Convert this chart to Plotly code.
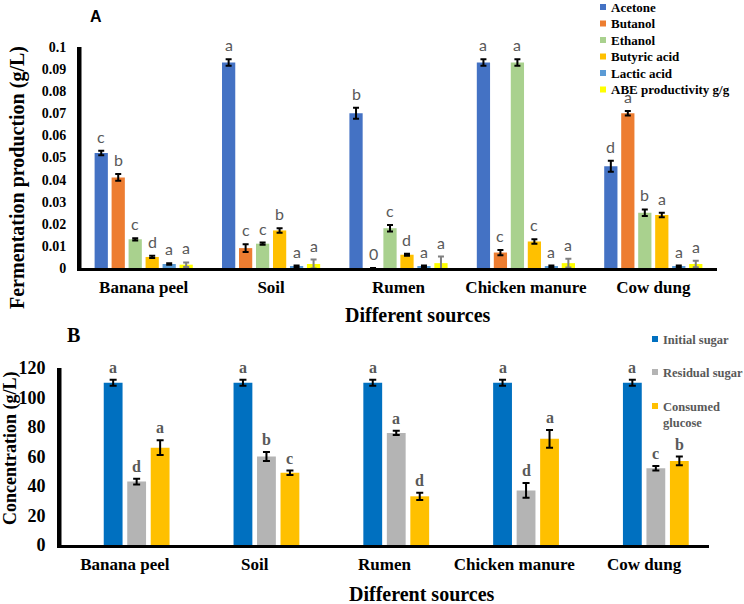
import plotly.graph_objects as go

# ---------------- data ----------------
sources = ["Banana peel", "Soil", "Rumen", "Chicken manure", "Cow dung"]

# Panel A (g/L)
acetone = [0.052, 0.093, 0.070, 0.093, 0.046]
butanol = [0.041, 0.009, 0.0, 0.007, 0.070]
ethanol = [0.013, 0.011, 0.018, 0.093, 0.025]
butyric_acid = [0.005, 0.017, 0.006, 0.012, 0.024]
lactic_acid = [0.0018, 0.0008, 0.0008, 0.0008, 0.0008]
abe_productivity = [0.0015, 0.0018, 0.0022, 0.0022, 0.0018]

acetone_err = [0.001, 0.0015, 0.0025, 0.0015, 0.0025]
butanol_err = [0.0015, 0.0018, 0.0, 0.0012, 0.001]
ethanol_err = [0.0005, 0.0005, 0.0015, 0.0015, 0.0015]
butyric_err = [0.0005, 0.001, 0.0005, 0.001, 0.001]
lactic_err = [0.0003, 0.0003, 0.0003, 0.0003, 0.0003]
abe_err = [0.001, 0.002, 0.003, 0.002, 0.0015]

acetone_lbl = ["c", "a", "b", "a", "d"]
butanol_lbl = ["b", "c", "0", "c", "a"]
ethanol_lbl = ["c", "c", "c", "a", "b"]
butyric_lbl = ["d", "b", "d", "c", "a"]
lactic_lbl = ["a", "a", "a", "a", "a"]
abe_lbl = ["a", "a", "a", "a", "a"]

# Panel B (g/L)
initial_sugar = [110, 110, 110, 110, 110]
residual_sugar = [43, 60, 76, 37, 52]
consumed_glucose = [66, 49, 33, 72, 57]

initial_err = [2, 2, 2, 2, 2]
residual_err = [2, 3, 1.5, 5, 1.5]
consumed_err = [5, 1.5, 2.5, 6, 3]

initial_lbl = ["a", "a", "a", "a", "a"]
residual_lbl = ["d", "b", "a", "d", "c"]
consumed_lbl = ["a", "c", "d", "a", "b"]

y1_ticks = [0, 0.01, 0.02, 0.03, 0.04, 0.05, 0.06, 0.07, 0.08, 0.09, 0.1]
y1_ticktext = ["0", "0.01", "0.02", "0.03", "0.04", "0.05", "0.06", "0.07", "0.08", "0.09", "0.1"]
y2_ticks = [0, 20, 40, 60, 80, 100, 120]

# ---------------- styling ----------------
W, H = 744, 604
SERIF = "Liberation Serif"
GREY_TXT = "#595959"

seriesA = [
    ("Acetone", acetone, acetone_err, acetone_lbl, "#4472C4", "black"),
    ("Butanol", butanol, butanol_err, butanol_lbl, "#ED7D31", "black"),
    ("Ethanol", ethanol, ethanol_err, ethanol_lbl, "#A9D18E", "black"),
    ("Butyric acid", butyric_acid, butyric_err, butyric_lbl, "#FFC000", "black"),
    ("Lactic acid", lactic_acid, lactic_err, lactic_lbl, "#5B9BD5", "black"),
    ("ABE productivity g/g", abe_productivity, abe_err, abe_lbl, "#FFFF00", "#7F7F7F"),
]
seriesB = [
    ("Initial sugar", initial_sugar, initial_err, initial_lbl, "#0070C0"),
    ("Residual sugar", residual_sugar, residual_err, residual_lbl, "#B4B4B4"),
    ("Consumed<br>glucose", consumed_glucose, consumed_err, consumed_lbl, "#FFC000"),
]


def px(x):
    return x / W


def py(y):
    return 1 - y / H


fig = go.Figure()
annotations = []
shapes = []

# panel A: 6 grouped bars
bargap_A = 0.2
nA = len(seriesA)
slotA = (1 - bargap_A) / nA
legA_rows = [7, 23.5, 40, 56.5, 73, 89.5]
for k, (name, vals, err, lbl, col, ecol) in enumerate(seriesA):
    fig.add_trace(go.Bar(
        x=sources, y=vals, name=name, marker_color=col, marker_line_width=0,
        error_y=dict(type="data", array=err, color=ecol, thickness=2, width=3),
        xaxis="x", yaxis="y", showlegend=False, cliponaxis=False,
    ))
    for i in range(len(sources)):
        xc = i - (1 - bargap_A) / 2 + slotA * (k + 0.5)
        annotations.append(dict(
            x=xc, y=vals[i] + err[i], xref="x", yref="y", text=lbl[i],
            showarrow=False, xanchor="center", yanchor="bottom", yshift=3,
            font=dict(family="Lato", size=16, color=GREY_TXT),
        ))
    # legend key
    r = legA_rows[k]
    shapes.append(dict(type="rect", xref="paper", yref="paper", x0=px(600), x1=px(606),
                       y0=py(r + 3), y1=py(r - 3), fillcolor=col, line_width=0))
    annotations.append(dict(text=name, x=px(609), y=py(r), xref="paper", yref="paper",
                            showarrow=False, xanchor="left", yanchor="middle",
                            font=dict(family=SERIF, size=13, color="black", weight="bold")))

# panel B: 4 slots, first slot empty (as in the original Excel chart)
slotB = 0.181
widthB = 0.145
legB_rows = [339, 372, 406]
for k, (name, vals, err, lbl, col) in enumerate(seriesB):
    off = -2 * slotB + (k + 1) * slotB + (slotB - widthB) / 2
    fig.add_trace(go.Bar(
        x=sources, y=vals, name=name.replace("<br>", " "), marker_color=col, marker_line_width=0,
        offset=off, width=widthB,
        error_y=dict(type="data", array=err, color="black", thickness=2, width=3.5),
        xaxis="x2", yaxis="y2", showlegend=False, cliponaxis=False,
    ))
    for i in range(len(sources)):
        annotations.append(dict(
            x=i + off + widthB / 2, y=vals[i] + err[i], xref="x2", yref="y2", text=lbl[i],
            showarrow=False, xanchor="center", yanchor="bottom", yshift=2,
            font=dict(family=SERIF, size=16, color=GREY_TXT, weight="bold"),
        ))
    r = legB_rows[k]
    shapes.append(dict(type="rect", xref="paper", yref="paper", x0=px(652), x1=px(658),
                       y0=py(r + 3), y1=py(r - 3), fillcolor=col, line_width=0))
    annotations.append(dict(text=name, x=px(661), y=py(r - 8), xref="paper", yref="paper",
                            showarrow=False, xanchor="left", yanchor="top", align="left",
                            font=dict(family=SERIF, size=12.5, color=GREY_TXT, weight="bold")))

# vertical axis lines (drawn along each y axis' domain)
for xr, yr in (("x domain", "y domain"), ("x2 domain", "y2 domain")):
    shapes.append(dict(type="line", xref=xr, yref=yr, x0=0, x1=0, y0=0, y1=1,
                       line=dict(color="black", width=3)))


def title(text, x, y, size, family=SERIF, angle=0):
    return dict(text=text, x=px(x), y=py(y), xref="paper", yref="paper", showarrow=False,
                xanchor="center", yanchor="middle", textangle=angle,
                font=dict(family=family, size=size, color="black", weight="bold"))


# titles / panel letters
annotations += [
    title("A", 96, 16, 16, family="Liberation Sans"),
    title("B", 73, 335, 20),
    title("Fermentation production (g/L)", 17, 178, 20, angle=-90),
    title("Different sources", 418, 315, 20),
    title("Concentration (g/L)", 10, 449, 18, angle=-90),
    title("Different sources", 422, 594, 20),
]

xaxis_common = dict(showline=True, linecolor="black", linewidth=3, showgrid=False,
                    zeroline=False, ticks="", automargin=False)
yaxis_common = dict(showline=True, linecolor="black", linewidth=3, showgrid=False,
                    zeroline=False, ticks="", automargin=False, side="left")

fig.update_layout(
    width=W, height=H, margin=dict(l=0, r=0, t=0, b=0, autoexpand=False),
    paper_bgcolor="white", plot_bgcolor="white",
    barmode="group", bargap=bargap_A, bargroupgap=0.22,
    xaxis=dict(domain=[px(80), px(717)], anchor="y", type="category", range=[-0.5, 4.5],
               tickfont=dict(family=SERIF, size=17, color="black", weight="bold"),
               ticklabelstandoff=2, **xaxis_common),
    yaxis=dict(domain=[py(268), py(47)], anchor="x", range=[0, 0.1],
               tickvals=y1_ticks, ticktext=y1_ticktext, ticklabelstandoff=8,
               tickfont=dict(family=SERIF, size=14, color="black", weight="bold"),
               **yaxis_common),
    xaxis2=dict(domain=[px(60), px(709)], anchor="y2", type="category", range=[-0.5, 4.5],
                tickfont=dict(family=SERIF, size=17, color="black", weight="bold"),
                ticklabelstandoff=2, **xaxis_common),
    yaxis2=dict(domain=[py(545), py(368)], anchor="x2", range=[0, 120],
                tickvals=y2_ticks, ticklabelstandoff=8,
                tickfont=dict(family=SERIF, size=18, color="black", weight="bold"),
                **yaxis_common),
    annotations=annotations,
    shapes=shapes,
    showlegend=False,
)

fig.write_html("out.html")
